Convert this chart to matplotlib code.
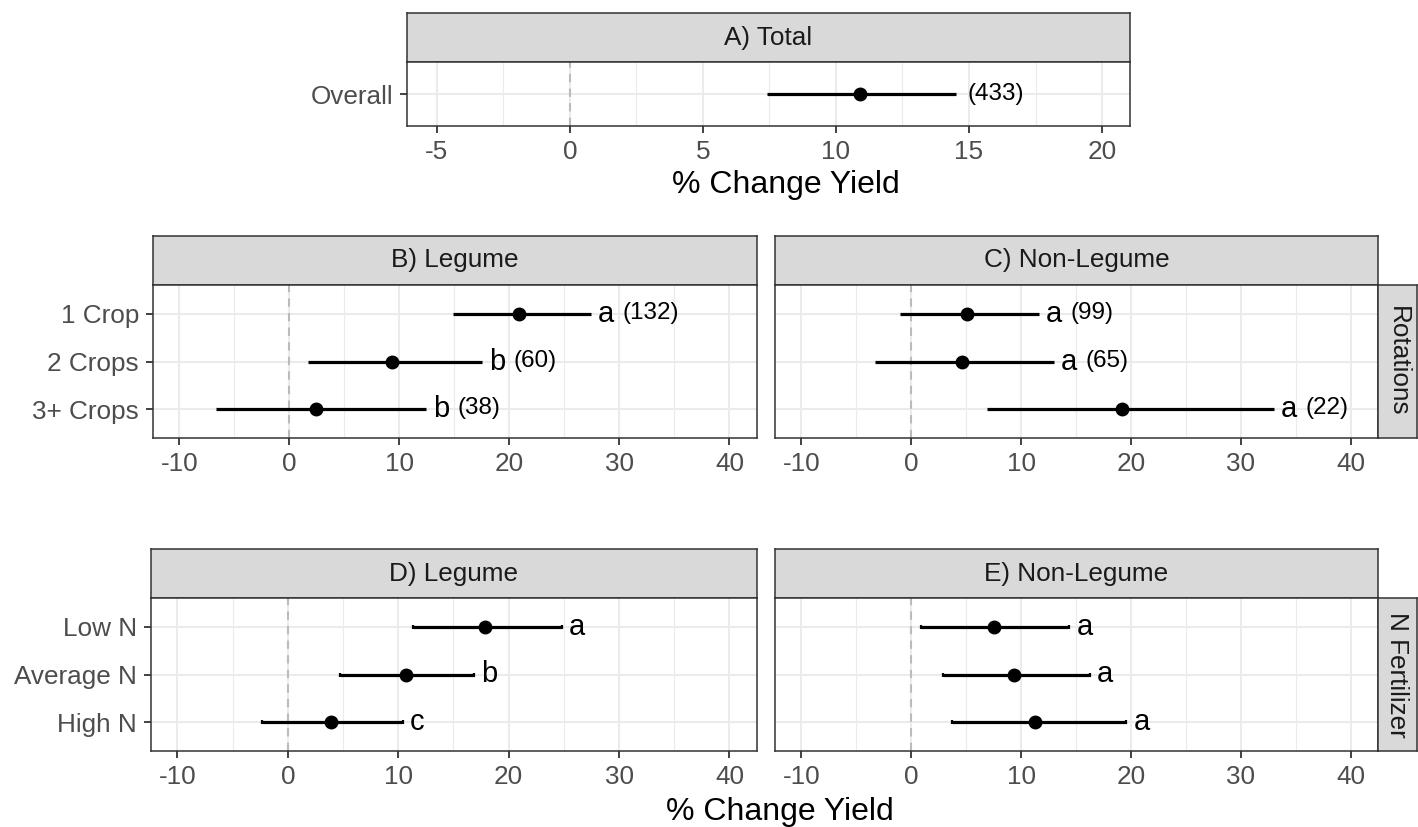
import matplotlib.pyplot as plt
from matplotlib.ticker import MultipleLocator

plt.rcParams['font.family'] = ['Liberation Sans', 'DejaVu Sans']
plt.rcParams['axes.unicode_minus'] = False

# ---- data ----
total_cats = ['Overall']
total_mean = [10.9]
total_lo = [7.4]
total_hi = [14.5]
total_n = ['(433)']

rot_cats = ['1 Crop', '2 Crops', '3+ Crops']
leg_rot_mean = [20.9, 9.3, 2.4]
leg_rot_lo = [14.9, 1.7, -6.7]
leg_rot_hi = [27.4, 17.5, 12.4]
leg_rot_let = ['a', 'b', 'b']
leg_rot_n = ['(132)', '(60)', '(38)']

non_rot_mean = [5.1, 4.6, 19.2]
non_rot_lo = [-1.0, -3.3, 6.9]
non_rot_hi = [11.6, 13.0, 33.0]
non_rot_let = ['a', 'a', 'a']
non_rot_n = ['(99)', '(65)', '(22)']

n_cats = ['Low N', 'Average N', 'High N']
leg_n_mean = [17.9, 10.7, 3.9]
leg_n_lo = [11.3, 4.7, -2.3]
leg_n_hi = [24.8, 16.9, 10.4]
leg_n_let = ['a', 'b', 'c']

non_n_mean = [7.5, 9.4, 11.3]
non_n_lo = [0.9, 2.9, 3.7]
non_n_hi = [14.4, 16.3, 19.6]
non_n_let = ['a', 'a', 'a']

# ---- styling ----
W, H = 1418, 827
BORDER = '#333333'
GRID = '#EBEBEB'
TICKTXT = '#4D4D4D'
STRIP = '#D9D9D9'
FS = 18.8

fig = plt.figure(figsize=(W / 100, H / 100), dpi=100)


def px_axes(x0, y0, x1, y1):
    # pixel box (top-left origin) -> figure axes
    return fig.add_axes([x0 / W, 1 - y1 / H, (x1 - x0) / W, (y1 - y0) / H])


def strip(x0, y0, x1, y1, label, rot=0):
    s = px_axes(x0, y0, x1, y1)
    s.set_facecolor(STRIP)
    s.set_xticks([])
    s.set_yticks([])
    for sp in s.spines.values():
        sp.set_color(BORDER)
        sp.set_linewidth(1.1)
    s.text(0.5, 0.5, label, transform=s.transAxes, ha='center', va='center',
           fontsize=FS, color='#1A1A1A', rotation=rot)
    return s


def panel(box, cats, mean, lo, hi, letters, counts, xlim, step, show_y=True, caps=False):
    ax = px_axes(*box)
    ypos = list(range(1, len(cats) + 1))
    ax.set_xlim(xlim)
    ax.set_ylim(len(cats) + 0.6, 0.4)
    ax.xaxis.set_major_locator(MultipleLocator(step))
    ax.xaxis.set_minor_locator(MultipleLocator(step / 2))
    ax.set_yticks(ypos)
    ax.set_yticklabels(cats if show_y else [])
    ax.set_axisbelow(True)
    ax.grid(which='major', color=GRID, lw=1.5)
    ax.grid(which='minor', axis='x', color=GRID, lw=0.8)
    for sp in ax.spines.values():
        sp.set_color(BORDER)
        sp.set_linewidth(1.1)
    ax.tick_params(which='major', length=5, width=1.3, color=BORDER,
                   labelcolor=TICKTXT, labelsize=FS)
    ax.tick_params(axis='x', pad=5)
    ax.tick_params(axis='y', pad=5)
    ax.tick_params(which='minor', length=0)
    if not show_y:
        ax.tick_params(axis='y', length=0)
    ax.axvline(0, color='#BBBBBB', ls=(0, (4, 3)), lw=1.5, zorder=1.5)
    xerr = [[m - l for m, l in zip(mean, lo)], [h - m for m, h in zip(mean, hi)]]
    ax.errorbar(mean, ypos, xerr=xerr, fmt='o', color='black', ms=9,
                elinewidth=2.3, capsize=1.6 if caps else 0, capthick=1.6, zorder=3)
    for y, h, i in zip(ypos, hi, range(len(cats))):
        if letters is not None:
            ax.annotate(letters[i], (h, y), xytext=(7, 0), textcoords='offset pixels',
                        ha='left', va='center', fontsize=21, color='black')
            if counts is not None:
                ax.annotate(counts[i], (h, y), xytext=(32, 1), textcoords='offset pixels',
                            ha='left', va='center', fontsize=17.5, color='black')
        elif counts is not None:
            ax.annotate(counts[i], (h, y), xytext=(12, 0), textcoords='offset pixels',
                        ha='left', va='center', fontsize=17.5, color='black')
    return ax


XL = (-12.4, 42.5)

# A) Total
strip(407, 13, 1130, 62, 'A) Total')
panel((407, 62, 1130, 126), total_cats, total_mean, total_lo, total_hi,
      None, total_n, (-6.12, 21.05), 5)
fig.text(786 / W, 1 - 185 / H, '% Change Yield', ha='center', va='center',
         fontsize=23, color='black')

# B) / C) rotations
strip(153, 236, 757, 285, 'B) Legume')
panel((153, 285, 757, 438), rot_cats, leg_rot_mean, leg_rot_lo, leg_rot_hi,
      leg_rot_let, leg_rot_n, XL, 10)
strip(775, 236, 1378, 285, 'C) Non-Legume')
panel((775, 285, 1378, 438), rot_cats, non_rot_mean, non_rot_lo, non_rot_hi,
      non_rot_let, non_rot_n, XL, 10, show_y=False)
strip(1378, 285, 1417, 438, 'Rotations', rot=-90)

# D) / E) N fertilizer
strip(151, 549, 757, 598, 'D) Legume')
panel((151, 598, 757, 751), n_cats, leg_n_mean, leg_n_lo, leg_n_hi,
      leg_n_let, None, XL, 10, caps=True)
strip(775, 549, 1378, 598, 'E) Non-Legume')
panel((775, 598, 1378, 751), n_cats, non_n_mean, non_n_lo, non_n_hi,
      non_n_let, None, XL, 10, show_y=False, caps=True)
strip(1378, 598, 1417, 751, 'N Fertilizer', rot=-90)

fig.text(780 / W, 1 - 812 / H, '% Change Yield', ha='center', va='center',
         fontsize=23, color='black')

fig.savefig('out.png', dpi=100, facecolor='white')
